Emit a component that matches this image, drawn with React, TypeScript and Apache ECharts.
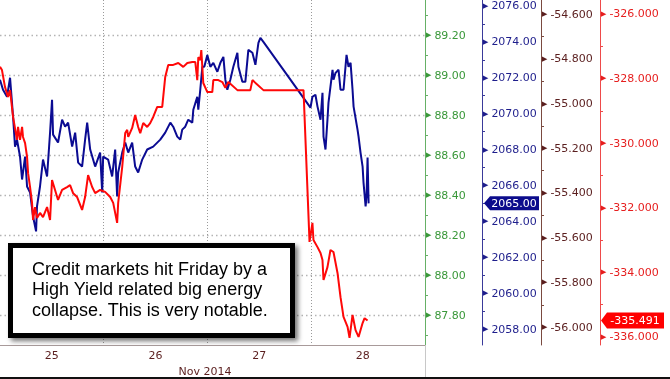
import React, { useEffect, useRef } from 'react';
import * as echarts from 'echarts';

// Time axis: days of November 2014 (fractional)
const blueTimes = [
  25.000, 25.029, 25.068, 25.097, 25.126, 25.145, 25.164, 25.193, 25.213, 25.242,
  25.261, 25.290, 25.319, 25.348, 25.357, 25.386, 25.415, 25.454, 25.483, 25.502,
  25.512, 25.560, 25.599, 25.628, 25.657, 25.696, 25.725, 25.754, 25.792, 25.821,
  25.841, 25.870, 25.918, 25.966, 25.986, 25.995, 26.043, 26.082, 26.111, 26.130,
  26.140, 26.179, 26.208, 26.237, 26.275, 26.304, 26.333, 26.372, 26.420, 26.478,
  26.546, 26.594, 26.643, 26.671, 26.710, 26.739, 26.758, 26.787, 26.816, 26.855,
  26.865, 26.903, 26.913, 26.932, 26.952, 26.971, 27.000, 27.029, 27.058, 27.097,
  27.126, 27.155, 27.174, 27.193, 27.222, 27.251, 27.290, 27.300, 27.338, 27.367,
  27.396, 27.435, 27.464, 27.493, 27.512, 27.541, 27.995, 28.014, 28.043, 28.063,
  28.092, 28.111, 28.121, 28.140, 28.159, 28.169, 28.188, 28.208, 28.217, 28.237,
  28.266, 28.285, 28.314, 28.333, 28.343, 28.362, 28.382, 28.401, 28.411, 28.449,
  28.459, 28.478, 28.498, 28.507, 28.527, 28.536, 28.546, 28.556,
];
const blueValues = [
  2071.89, 2071.33, 2070.94, 2072.00, 2069.83, 2068.16, 2068.55, 2067.61, 2066.33, 2067.61,
  2065.94, 2065.61, 2064.27, 2063.44, 2064.83, 2065.94, 2067.44, 2066.50, 2068.94, 2070.77,
  2068.83, 2068.39, 2069.66, 2069.27, 2069.50, 2068.16, 2068.94, 2067.27, 2067.05, 2068.55,
  2069.50, 2068.00, 2067.05, 2067.83, 2065.61, 2067.61, 2067.44, 2066.50, 2068.00, 2065.39,
  2066.72, 2067.83, 2068.39, 2067.83, 2068.39, 2067.05, 2066.72, 2067.44, 2068.00, 2068.16,
  2068.55, 2068.94, 2069.50, 2069.27, 2068.72, 2068.55, 2069.11, 2069.27, 2069.66, 2069.50,
  2070.22, 2070.94, 2070.22, 2071.33, 2072.61, 2072.61, 2073.27, 2072.61, 2072.83, 2072.33,
  2072.83, 2073.16, 2071.89, 2071.33, 2071.89, 2072.61, 2073.39, 2072.61, 2071.77, 2071.77,
  2073.55, 2073.39, 2072.72, 2073.94, 2074.22, 2074.00, 2070.33, 2070.94, 2071.05, 2070.39,
  2069.66, 2071.16, 2068.72, 2068.00, 2069.66, 2070.61, 2071.50, 2072.44, 2071.89, 2072.27,
  2072.44, 2071.33, 2071.33, 2072.61, 2073.27, 2072.61, 2072.83, 2071.33, 2070.39, 2069.11,
  2068.72, 2067.83, 2067.05, 2066.16, 2064.83, 2065.39, 2067.55, 2065.00,
];

const redTimes = [
  25.000, 25.019, 25.048, 25.077, 25.097, 25.126, 25.164, 25.174, 25.193, 25.213,
  25.222, 25.242, 25.261, 25.271, 25.290, 25.309, 25.319, 25.338, 25.357, 25.386,
  25.415, 25.454, 25.483, 25.502, 25.531, 25.560, 25.599, 25.647, 25.676, 25.705,
  25.744, 25.792, 25.821, 25.850, 25.889, 25.918, 25.966, 26.014, 26.063, 26.092,
  26.130, 26.140, 26.179, 26.208, 26.227, 26.237, 26.275, 26.304, 26.333, 26.353,
  26.382, 26.420, 26.449, 26.478, 26.517, 26.565, 26.594, 26.623, 26.671, 26.720,
  26.768, 26.807, 26.855, 26.884, 26.903, 26.913, 26.932, 26.942, 26.961, 27.000,
  27.048, 27.058, 27.106, 27.145, 27.174, 27.203, 27.290, 27.415, 27.435, 27.541,
  27.928, 27.986, 28.014, 28.024, 28.063, 28.092, 28.111, 28.121, 28.159, 28.188,
  28.217, 28.256, 28.285, 28.314, 28.353, 28.372, 28.401, 28.430, 28.459, 28.498,
  28.517, 28.546,
];
const redValues = [
  -327.64, -327.74, -328.26, -328.57, -328.36, -329.19, -329.90, -329.50, -329.90, -329.50,
  -329.81, -330.00, -330.43, -330.93, -331.36, -331.85, -332.38, -331.98, -332.32, -332.16,
  -332.29, -331.98, -332.38, -331.14, -331.45, -331.76, -331.45, -331.36, -331.30, -331.55,
  -331.67, -332.07, -331.67, -330.99, -331.36, -331.55, -331.45, -331.51, -331.67, -331.85,
  -332.47, -331.85, -330.74, -329.69, -329.59, -329.81, -329.53, -329.13, -329.50, -329.69,
  -329.38, -329.50, -329.38, -329.19, -328.88, -328.88, -327.95, -327.58, -327.58, -327.52,
  -327.64, -327.52, -327.49, -327.49, -328.05, -327.34, -327.43, -327.12, -328.14, -328.42,
  -328.42, -328.05, -328.05, -328.11, -328.29, -328.11, -328.36, -328.36, -328.05, -328.36,
  -328.36, -333.06, -332.47, -333.00, -333.22, -333.40, -333.62, -334.24, -333.84, -333.31,
  -333.37, -334.02, -334.77, -335.38, -335.69, -336.03, -335.32, -335.79, -336.00, -335.57,
  -335.42, -335.491,
];

const xRange = [25, 29.1];
// colour of the dotted day-boundary line at ticks 25, 26, 27, 28, 29
const dayLineColors = ['rgba(0,0,0,0)', '#9a9a9a', '#9a9a9a', '#9a9a9a', 'rgba(0,0,0,0)', 'rgba(0,0,0,0)'];
const monthLabel = 'Nov 2014';

const greenRange = [87.65, 89.375];
const blueRange = [2057.11, 2076.33];
const brownRange = [-56.08, -54.537];
const redRange = [-336.25, -325.57];

const noteLines = [
  'Credit markets hit Friday by a',
  'High Yield related big energy',
  'collapse. This is very notable.',
];

const GREEN = '#3a983a';
const BLUE = '#1e1e8c';
const BROWN = '#5a1e1e';
const RED = '#e61e1e';
const GRID_RIGHT = 245;
const GRID_BOTTOM = 34;
const OFFSETS = [0, 57, 116, 175];
const FONT = 'DejaVu Sans';

function yAxisDef(
  color: string,
  lineColor: string,
  offset: number,
  range: number[],
  interval: number,
  splitNumber: number,
  decimals: number,
  showGrid: boolean
) {
  return {
    type: 'value',
    position: 'right',
    offset,
    min: range[0],
    max: range[1],
    splitNumber,
    minInterval: interval,
    maxInterval: interval,
    axisLine: { show: true, onZero: false, lineStyle: { color: lineColor, width: 1 } },
    axisTick: { show: false },
    minorTick: { show: true, splitNumber: 2, length: 3, lineStyle: { color: lineColor, width: 1 } },
    minorSplitLine: { show: false },
    axisLabel: {
      margin: 1,
      color,
      fontFamily: FONT,
      fontSize: 11,
      showMinLabel: false,
      showMaxLabel: false,
      formatter: (v: number) => `{t|▶}${v.toFixed(decimals)}`,
      rich: { t: { fontSize: 7, color, padding: [0, 3, 0, 0] } },
    },
    splitLine: showGrid
      ? {
          show: true,
          showMinLine: false,
          showMaxLine: false,
          lineStyle: { color: '#b4b4b4', width: 1.3, type: [1.5, 3] },
        }
      : { show: false },
  };
}

export default function App() {
  const ref = useRef<HTMLDivElement>(null);

  useEffect(() => {
    if (!ref.current) return;
    const chart = echarts.init(ref.current, null, { renderer: 'svg' });

    const option: any = {
      animation: false,
      grid: {
        left: 0,
        right: GRID_RIGHT,
        top: 0,
        bottom: GRID_BOTTOM,
        containLabel: false,
        outerBoundsMode: 'none',
      },
      xAxis: [
        {
          type: 'value',
          position: 'bottom',
          min: xRange[0],
          max: xRange[1],
          interval: 0.5,
          axisLine: { show: true, onZero: false, lineStyle: { color: '#a89a9a', width: 1 } },
          axisTick: { show: false },
          splitLine: { show: false },
          axisLabel: {
            margin: 5,
            color: BROWN,
            fontFamily: FONT,
            fontSize: 11,
            showMinLabel: false,
            showMaxLabel: false,
            formatter: (v: number) =>
              Math.abs((v % 1) - 0.5) < 1e-6 ? String(Math.floor(v)) : '',
          },
        },
        {
          type: 'value',
          position: 'top',
          min: xRange[0],
          max: xRange[1],
          interval: 1,
          axisLine: { show: false },
          axisTick: { show: false },
          axisLabel: { show: false },
          splitLine: {
            show: true,
            lineStyle: { color: dayLineColors, width: 1, type: [1, 2] },
          },
        },
      ],
      yAxis: [
        yAxisDef(GREEN, '#66b066', OFFSETS[0], greenRange, 0.2, 8, 2, true),
        yAxisDef(BLUE, '#3a3a9a', OFFSETS[1], blueRange, 2, 10, 2, false),
        yAxisDef(BROWN, '#7a4a40', OFFSETS[2], brownRange, 0.2, 8, 3, false),
        yAxisDef(RED, '#ee4a4a', OFFSETS[3], redRange, 2, 5, 3, false),
      ],
      series: [
        {
          type: 'line',
          name: 'S&P 500',
          xAxisIndex: 0,
          yAxisIndex: 1,
          showSymbol: false,
          symbol: 'none',
          z: 3,
          lineStyle: { color: '#0b0b92', width: 2 },
          data: blueTimes.map((t, i) => [t, blueValues[i]]),
        },
        {
          type: 'line',
          name: 'HY Credit',
          xAxisIndex: 0,
          yAxisIndex: 3,
          showSymbol: false,
          symbol: 'none',
          z: 4,
          lineStyle: { color: '#ff0808', width: 2 },
          data: redTimes.map((t, i) => [t, redValues[i]]),
        },
      ],
    };
    chart.setOption(option);

    const W = chart.getWidth();
    const H = chart.getHeight();
    const gx = W - GRID_RIGHT;
    const lastBlue = blueValues[blueValues.length - 1];
    const lastRed = redValues[redValues.length - 1];
    const yB = chart.convertToPixel({ yAxisIndex: 1 } as any, lastBlue) as number;
    const yR = chart.convertToPixel({ yAxisIndex: 3 } as any, lastRed) as number;
    const axB = gx + OFFSETS[1];
    const axR = gx + OFFSETS[3];
    const plotBottom = H - GRID_BOTTOM;

    chart.setOption({
      graphic: [
        {
          type: 'polygon',
          z: 50,
          shape: {
            points: [
              [axB + 2, yB],
              [axB + 8, yB - 7],
              [axB + 57, yB - 7],
              [axB + 57, yB + 7],
              [axB + 8, yB + 7],
            ],
          },
          style: { fill: '#0c0c8c' },
        },
        {
          type: 'text',
          z: 51,
          x: axB + 32,
          y: yB,
          style: {
            text: lastBlue.toFixed(2),
            fill: '#ffffff',
            font: `11px "${FONT}"`,
            align: 'center',
            verticalAlign: 'middle',
          },
        },
        {
          type: 'polygon',
          z: 50,
          shape: {
            points: [
              [axR + 1, yR],
              [axR + 7, yR - 8],
              [axR + 64, yR - 8],
              [axR + 64, yR + 8],
              [axR + 7, yR + 8],
            ],
          },
          style: { fill: '#ff0000' },
        },
        {
          type: 'text',
          z: 51,
          x: axR + 35,
          y: yR,
          style: {
            text: lastRed.toFixed(3),
            fill: '#ffffff',
            font: `11px "${FONT}"`,
            align: 'center',
            verticalAlign: 'middle',
          },
        },
        {
          type: 'text',
          z: 20,
          x: 205,
          y: 371,
          style: {
            text: monthLabel,
            fill: BROWN,
            font: `11px "${FONT}"`,
            align: 'center',
            verticalAlign: 'middle',
          },
        },
        {
          type: 'line',
          z: 20,
          shape: { x1: gx + 0.5, y1: plotBottom, x2: gx + 0.5, y2: H - 2 },
          style: { stroke: '#c8c8c8', lineWidth: 1 },
        },
        {
          type: 'rect',
          z: 30,
          shape: { x: 0, y: H - 2, width: W, height: 2 },
          style: { fill: '#111111' },
        },
        {
          type: 'rect',
          z: 100,
          shape: { x: 10.5, y: 245.5, width: 282, height: 90 },
          style: {
            fill: '#ffffff',
            stroke: '#000000',
            lineWidth: 5,
            shadowBlur: 5,
            shadowOffsetX: 3,
            shadowOffsetY: 3,
            shadowColor: 'rgba(0,0,0,0.55)',
          },
        },
        {
          type: 'text',
          z: 101,
          x: 32,
          y: 258.5,
          style: {
            text: noteLines.join('\n'),
            fill: '#000000',
            font: '18px "Liberation Sans"',
            lineHeight: 20.5,
            verticalAlign: 'top',
          },
        },
      ],
    });

    return () => chart.dispose();
  }, []);

  return (
    <div
      ref={ref}
      style={{ position: 'fixed', left: 0, top: 0, width: 670, height: 379 }}
    />
  );
}
